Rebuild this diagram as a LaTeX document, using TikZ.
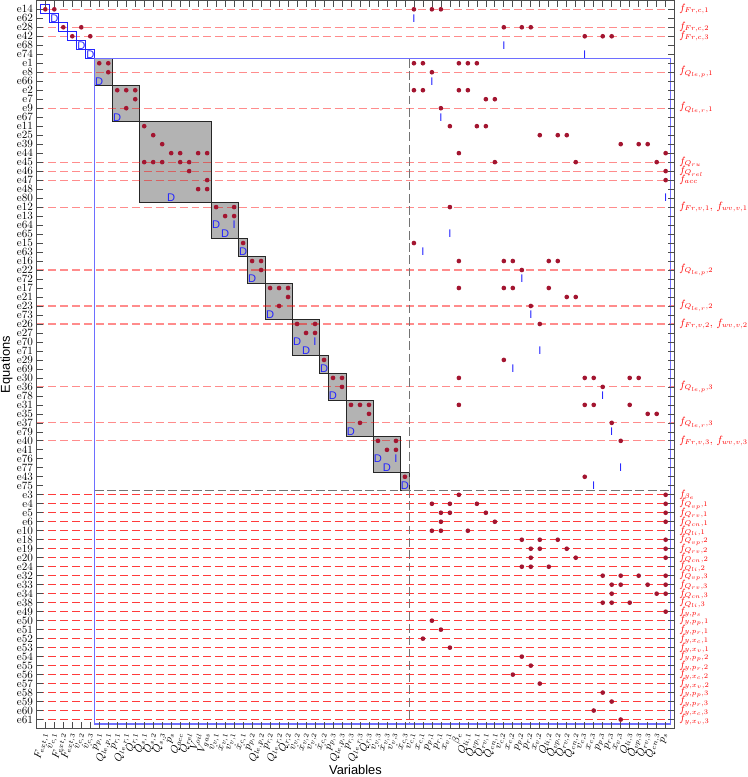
\documentclass[tikz,border=0pt]{standalone}
\usepackage{fontspec}
\newfontfamily\labfont{Liberation Sans}
\definecolor{dotred}{RGB}{163,21,48}
\definecolor{markblue}{RGB}{35,35,255}
\definecolor{boxgray}{RGB}{179,179,179}
\definecolor{rectblue}{RGB}{110,110,255}
\begin{document}
\begin{tikzpicture}[x=0.27cm, y=-0.27cm,
  block/.style={draw=black!85, fill=boxgray, line width=0.6pt},
  eqpink/.style={red, opacity=0.45, line width=1pt, dash pattern=on 6.8pt off 3.4pt},
  eqred/.style={red!90, opacity=0.85, line width=0.9pt, dash pattern=on 6.8pt off 3.4pt},
  split/.style={black!55, line width=0.9pt, dash pattern=on 7.5pt off 3pt},
  marker/.style={markblue, inner sep=0pt, font=\labfont\fontsize{9.5}{10}\selectfont},
  rowlab/.style={anchor=east, inner sep=0pt, font=\fontsize{9.5}{10}\selectfont},
  collab/.style={rotate=75, anchor=east, inner sep=0.5pt, font=\fontsize{9}{10}\selectfont},
  flab/.style={anchor=west, inner sep=0pt, red, font=\fontsize{8.6}{10}\selectfont},
  axlab/.style={font=\labfont\fontsize{11}{12}\selectfont}]
  \useasboundingbox (-5.04,-1.034) rectangle (78.05,85.39);
  % grey blocks of the block triangular form
  \foreach \ca/\cb/\ra/\rb in {6/7/6/8, 8/10/9/12, 11/18/13/21, 19/21/22/25, 22/22/26/27,
      23/24/28/30, 25/27/31/34, 28/30/35/38, 31/31/39/40, 32/33/41/43, 34/36/44/47,
      37/39/48/51, 40/40/52/53}
    \draw[block] (\ca-0.5,\ra-0.5) rectangle (\cb+0.5,\rb+0.5);
  % equation lines
  \foreach \i in {0,2,3,7,11,17,18,19,22,29,33,35,42,46,48}
    \draw[eqpink] (-1,\i) -- (70,\i);
  \foreach \i in {54,...,79}
    \draw[eqred] (-1,\i) -- (70,\i);
  \draw[split] (40.5,5.5) -- (40.5,79.5);
  \draw[split] (5.5,53.5) -- (69.5,53.5);
  \foreach \k in {0,...,5}
    \draw[markblue, line width=0.7pt] (\k-0.5,\k-0.5) rectangle (\k+0.5,\k+0.5);
  \draw[rectblue, line width=1pt] (5.5,5.5) rectangle (69.5,79.5);
  % axes
  \draw[black!70, line width=0.6pt] (-1,-1) rectangle (70,80);
  \foreach \j in {0,...,69} {
    \draw[black!70, line width=0.6pt] (\j,-1) -- (\j,-0.3);
    \draw[black!70, line width=0.6pt] (\j,80) -- (\j,79.3);
  }
  \foreach \i in {0,...,79} {
    \draw[black!70, line width=0.6pt] (-1,\i) -- (-0.3,\i);
    \draw[black!70, line width=0.6pt] (70,\i) -- (69.3,\i);
  }
  % incidence dots
  \foreach \i/\cols in {0/{0,1,41,43,44}, 2/{2,4,51,53,54}, 3/{3,5,60,62,63},
      6/{6,7,41,42,46,47,48}, 7/{7,43}, 9/{8,9,10,41,42,46,47}, 10/{10,49,50},
      11/{9,44}, 13/{11,45,48,49}, 14/{12,55,57,58}, 15/{13,64,66,67},
      16/{14,15,17,18,46,69}, 17/{11,12,13,15,16,50,59,68}, 18/{16,69},
      19/{18,69}, 20/{17,18}, 22/{19,21,45}, 23/{20,21}, 26/{22,41},
      28/{23,24,46,51,52,56,57}, 29/{24,53}, 31/{25,26,27,46,51,52,56},
      32/{27,58,59}, 33/{26,54}, 35/{28,30,55}, 36/{29,30}, 39/{31,51},
      41/{32,33,46,60,61,65,66}, 42/{33,62}, 44/{34,35,36,46,60,61,65},
      45/{36,67,68}, 46/{35,63}, 48/{37,39,64}, 49/{38,39}, 52/{40,60},
      54/{46,69}, 55/{43,45,48,69}, 56/{44,45,49,69}, 57/{44,50,69},
      58/{43,44,47}, 59/{53,55,57,69}, 60/{54,55,58,69}, 61/{54,59,69},
      62/{53,54,56}, 63/{62,64,66,69}, 64/{63,64,67,69}, 65/{63,68,69},
      66/{62,63,65}, 67/{69}, 68/{43}, 69/{44}, 70/{42}, 71/{45}, 72/{53},
      73/{54}, 74/{52}, 75/{55}, 76/{62}, 77/{63}, 78/{61}, 79/{64}}
    \foreach \j in \cols
      \fill[dotred] (\j,\i) circle (0.26);
  % derivative and integrated variables
  \foreach \i/\j in {1/1, 4/4, 5/5, 8/6, 12/8, 21/14, 24/19, 25/20, 27/22, 30/23,
      34/25, 37/28, 38/29, 40/31, 43/32, 47/34, 50/37, 51/38, 53/40}
    \node[marker] (d-\i) at (\j,\i) {D};
  \foreach \i/\j in {1/41, 4/51, 5/60, 8/43, 12/44, 21/69, 24/21, 25/45, 27/42, 30/53,
      34/54, 37/30, 38/55, 40/52, 43/62, 47/63, 50/39, 51/64, 53/61}
    \node[marker] (s-\i) at (\j,\i) {I};
  % equation names
  \foreach \lab [count=\i from 0] in {e14,e62,e28,e42,e68,e74,e1,e8,e66,e2,e7,e9,e67,
      e11,e25,e39,e44,e45,e46,e47,e48,e80,e12,e13,e64,e65,e15,e63,e16,e22,e72,e17,
      e21,e23,e73,e26,e27,e70,e71,e29,e69,e30,e36,e78,e31,e35,e37,e79,e40,e41,e76,
      e77,e43,e75,e3,e4,e5,e6,e10,e18,e19,e20,e24,e32,e33,e34,e38,e49,e50,e51,e52,
      e53,e54,e55,e56,e57,e58,e59,e60,e61}
    \node[rowlab] (eq-\i) at (-1.35,\i) {\lab};
  % variable names
  \foreach \lab [count=\j from 0] in {{F_{ext,1}},{\dot v_{c,1}},{F_{ext,2}},{F_{ext,3}},
      {\dot v_{c,2}},{\dot v_{c,3}},{\dot p_{p,1}},{Q_{le,p,1}},{\dot p_{r,1}},{Q_{le,r,1}},
      {Q_{r,1}},{Q_{s,1}},{Q_{s,2}},{Q_{s,3}},{\dot p_s},{Q_{acc}},{Q_{rel}},{V_{oil}},
      {V_{gas}},{\dot v_{v,1}},{\dot x_{v,1}},{v_{v,1}},{\dot x_{c,1}},{\dot p_{p,2}},
      {Q_{le,p,2}},{\dot p_{r,2}},{Q_{le,r,2}},{Q_{r,2}},{\dot v_{v,2}},{\dot x_{v,2}},
      {v_{v,2}},{\dot x_{c,2}},{\dot p_{p,3}},{Q_{le,p,3}},{\dot p_{r,3}},{Q_{le,r,3}},
      {Q_{r,3}},{\dot v_{v,3}},{\dot x_{v,3}},{v_{v,3}},{\dot x_{c,3}},{v_{c,1}},{x_{c,1}},
      {p_{p,1}},{p_{r,1}},{x_{v,1}},{\beta_e},{Q_{li,1}},{Q_{vp,1}},{Q_{rv,1}},{Q_{cn,1}},
      {v_{c,2}},{x_{c,2}},{p_{p,2}},{p_{r,2}},{x_{v,2}},{Q_{li,2}},{Q_{vp,2}},{Q_{rv,2}},
      {Q_{cn,2}},{v_{c,3}},{x_{c,3}},{p_{p,3}},{p_{r,3}},{x_{v,3}},{Q_{li,3}},{Q_{vp,3}},
      {Q_{rv,3}},{Q_{cn,3}},{p_s}}
    \node[collab] (var-\j) at (\j,80.4) {$\lab$};
  % residual names
  \foreach \i/\lab in {0/{f_{Fr,c,1}}, 2/{f_{Fr,c,2}}, 3/{f_{Fr,c,3}}, 7/{f_{Q_{le,p},1}},
      11/{f_{Q_{le,r},1}}, 17/{f_{Q_{ru}}}, 18/{f_{Q_{rel}}}, 19/{f_{acc}},
      22/{f_{Fr,v,1},\, f_{wv,v,1}}, 29/{f_{Q_{le,p},2}}, 33/{f_{Q_{le,r},2}},
      35/{f_{Fr,v,2},\, f_{wv,v,2}}, 42/{f_{Q_{le,p},3}}, 46/{f_{Q_{le,r},3}},
      48/{f_{Fr,v,3},\, f_{wv,v,3}}, 54/{f_{\beta_e}},
      55/{f_{Q_{vp},1}}, 56/{f_{Q_{rv},1}}, 57/{f_{Q_{cn},1}}, 58/{f_{Q_{li},1}},
      59/{f_{Q_{vp},2}}, 60/{f_{Q_{rv},2}}, 61/{f_{Q_{cn},2}}, 62/{f_{Q_{li},2}},
      63/{f_{Q_{vp},3}}, 64/{f_{Q_{rv},3}}, 65/{f_{Q_{cn},3}}, 66/{f_{Q_{li},3}},
      67/{f_{y,p_s}}, 68/{f_{y,p_p,1}}, 69/{f_{y,p_r,1}}, 70/{f_{y,x_c,1}}, 71/{f_{y,x_v,1}},
      72/{f_{y,p_p,2}}, 73/{f_{y,p_r,2}}, 74/{f_{y,x_c,2}}, 75/{f_{y,x_v,2}},
      76/{f_{y,p_p,3}}, 77/{f_{y,p_r,3}}, 78/{f_{y,x_c,3}}, 79/{f_{y,x_v,3}}}
    \node[flab] (res-\i) at (70.5,\i) {$\lab$};
  \node[axlab, rotate=90] (ylab) at (-4.3,39.5) {Equations};
  \node[axlab] (xlab) at (34.5,84.6) {Variables};
\end{tikzpicture}
\end{document}
